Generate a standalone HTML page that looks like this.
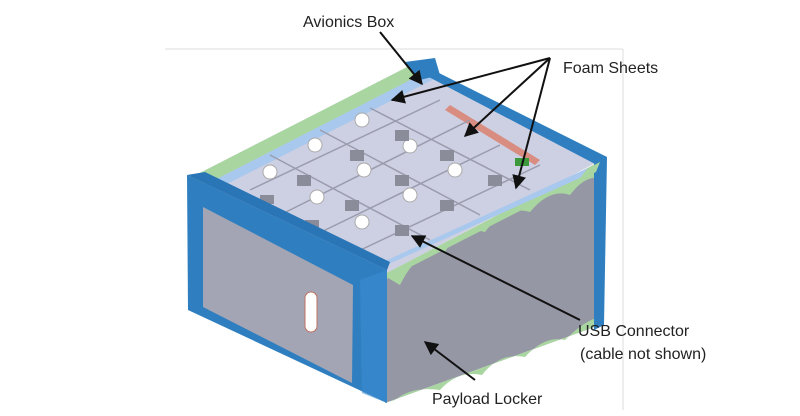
<!DOCTYPE html>
<html><head><meta charset="utf-8"><style>
body{margin:0;background:#fff;width:800px;height:416px;overflow:hidden}
svg{display:block}
text{font-family:"Liberation Sans",sans-serif;font-size:16px;fill:#222}
</style></head><body>
<svg width="800" height="416" viewBox="0 0 800 416">
<defs><marker id="a" viewBox="0 0 10 10" refX="9" refY="5" markerWidth="7" markerHeight="7" orient="auto"><path d="M0,0L10,5L0,10z" fill="#111"/></marker></defs>
<line x1="165" y1="49" x2="623" y2="49" stroke="#ddd" stroke-width="1"/>
<line x1="623" y1="49" x2="623" y2="410" stroke="#ddd" stroke-width="1"/>
<!-- right side face -->
<polygon points="383,275 603,160 600,325 385,403" fill="#9597a5"/>
<path d="M383,275 L603,160 L600,178 Q585,175 570,195 Q550,188 530,212 Q505,205 485,232 Q460,225 445,252 Q420,245 400,285 Z" fill="#a9d6a0"/>
<path d="M385,403 L600,325 L600,317 Q585,320 565,340 Q545,335 525,357 Q500,352 482,375 Q458,370 440,390 Q412,386 395,400 Z" fill="#a9d6a0"/>
<polygon points="594,162 607,157 604,325 594,330" fill="#2f7fc0"/>
<!-- top face -->
<polygon points="190,178 417,62 605,158 383,275" fill="#cdcfe2"/>
<polygon points="190,178 417,62 430,70 205,185" fill="#a9d6a0"/>
<polygon points="205,185 430,70 440,76 215,190" fill="#a8c8ee"/>
<polygon points="417,62 607,157 597,165 425,75" fill="#2f7fc0"/>
<polygon points="383,275 600,162 596,172 375,285" fill="#a9d6a0"/>
<polygon points="370,268 588,168 580,178 362,276" fill="#a8c8ee"/>
<polygon points="405,62 435,58 440,75 420,80" fill="#2f7fc0"/>
<polygon points="450,105 540,160 535,165 445,110" fill="#d98c80"/>
<rect x="515" y="158" width="14" height="8" fill="#3c9a3c"/>
<g stroke="#9a9cae" stroke-width="1.5">
<line x1="250" y1="190" x2="440" y2="100"/><line x1="280" y1="215" x2="470" y2="120"/><line x1="315" y1="235" x2="500" y2="145"/><line x1="350" y1="255" x2="540" y2="165"/>
<line x1="270" y1="155" x2="430" y2="240"/><line x1="320" y1="130" x2="480" y2="215"/><line x1="370" y1="108" x2="530" y2="190"/>
</g>
<g fill="#fff" stroke="#aaa"><circle cx="315" cy="145" r="7"/><circle cx="270" cy="172" r="7"/><circle cx="362" cy="120" r="7"/><circle cx="317" cy="197" r="7"/><circle cx="364" cy="170" r="7"/><circle cx="410" cy="146" r="7"/><circle cx="362" cy="222" r="7"/><circle cx="410" cy="195" r="7"/><circle cx="455" cy="170" r="7"/></g>
<g fill="#8a8c99"><rect x="297" y="175" width="14" height="11"/><rect x="350" y="150" width="14" height="11"/><rect x="395" y="130" width="14" height="11"/><rect x="345" y="200" width="14" height="11"/><rect x="395" y="175" width="14" height="11"/><rect x="440" y="150" width="14" height="11"/><rect x="395" y="225" width="14" height="11"/><rect x="440" y="200" width="14" height="11"/><rect x="488" y="175" width="14" height="11"/><rect x="260" y="195" width="14" height="9"/><rect x="305" y="220" width="14" height="9"/></g>
<!-- front face -->
<polygon points="187,175 387,270 387,403 188,310" fill="#2f7fc0"/>
<polygon points="203,207 353,285 352,383 203,307" fill="#a3a5b4"/>
<polygon points="187,175 205,172 390,262 387,270" fill="#2a75b5"/>
<rect x="305" y="292" width="12" height="40" rx="6" fill="#fff" stroke="#c07060"/>
<polygon points="360,280 387,270 387,403 362,393" fill="#3a8ad0" opacity=".6"/>
<!-- arrows -->
<g stroke="#111" stroke-width="2" fill="none" marker-end="url(#a)">
<line x1="380" y1="32" x2="422" y2="84"/>
<line x1="550" y1="58" x2="392" y2="100"/>
<line x1="550" y1="58" x2="465" y2="136"/>
<line x1="550" y1="58" x2="516" y2="188"/>
<line x1="580" y1="320" x2="412" y2="236"/>
<line x1="475" y1="380" x2="425" y2="342"/>
</g>
<text x="303" y="27">Avionics Box</text>
<text x="563" y="73">Foam Sheets</text>
<text x="578" y="336">USB Connector</text>
<text x="580" y="359">(cable not shown)</text>
<text x="432" y="404">Payload Locker</text>
</svg>
</body></html>
